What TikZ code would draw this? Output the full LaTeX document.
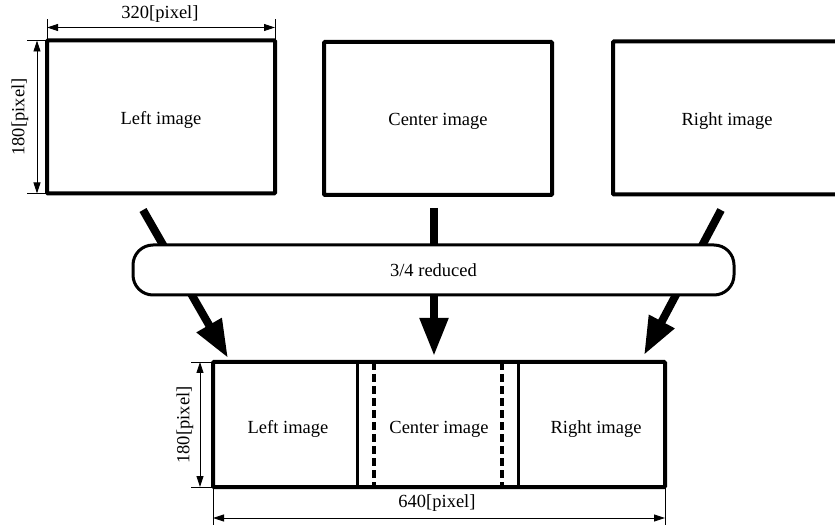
\documentclass[tikz,border=0pt]{standalone}
\usepackage{fontspec}
\setmainfont{Liberation Serif}
\usetikzlibrary{arrows.meta}
\newcommand\figfont{\fontsize{18.5}{22}\selectfont}
\begin{document}
\begin{tikzpicture}[x=1pt,y=-1pt,
  imgbox/.style={draw,line width=4pt,rounded corners=1pt,outer sep=0pt,
    inner sep=0pt,minimum width=228pt,minimum height=153pt},
  reducebox/.style={draw,fill=white,line width=3pt,rounded corners=20pt,
    outer sep=0pt,minimum width=601pt,minimum height=50pt,font=\figfont},
  stripbox/.style={draw,line width=4pt,rounded corners=1pt,outer sep=0pt,
    inner sep=0pt,minimum width=452pt,minimum height=125pt},
  lbl/.style={font=\figfont,inner sep=0pt},
  flow/.style={line width=8pt,-{Triangle[length=38pt,width=27pt]}},
  extline/.style={line width=0.9pt},
  dimline/.style={line width=0.9pt,{Triangle[length=11pt,width=7pt]}-{Triangle[length=11pt,width=7pt]}},
  divider/.style={line width=3pt},
  seam/.style={line width=4.5pt,dash pattern=on 8pt off 4pt}]
\useasboundingbox (0,0) rectangle (835,526);
\clip (0,0) rectangle (835,526);

% source images
\node[imgbox] (tl) at (161,117) {};
\node[imgbox] (tc) at (438,118.5) {};
\node[imgbox] (tr) at (727,118) {};
\node[lbl] (tlt) at ([yshift=-3pt]tl.center) {Left image};
\node[lbl] (tct) at ([yshift=-3pt]tc.center) {Center image};
\node[lbl] (trt) at ([yshift=-3pt]tr.center) {Right image};

% size of a source image
\draw[extline] (tl.north west) -- ++(0,-21);
\draw[extline] (tl.north east) -- ++(0,-21);
\draw[dimline] ([yshift=13pt]tl.north west) -- ([yshift=13pt]tl.north east);
\node[lbl] (tw) at (160,14) {320[pixel]};
\draw[extline] (tl.north west) -- ++(-20,0);
\draw[extline] (tl.south west) -- ++(-20,0);
\draw[dimline] ([xshift=-10pt]tl.north west) -- ([xshift=-10pt]tl.south west);
\node[lbl,rotate=90] (th) at (20,117) {180[pixel]};

% reduction arrows
\coordinate (ls) at (143,210);
\coordinate (lt) at (228,358);
\coordinate (cs) at (434,208);
\coordinate (ct) at (434,356);
\coordinate (rs) at (721,210);
\coordinate (rt) at (644,355);
\draw[flow] (ls) -- (lt);
\draw[flow] (cs) -- (ct);
\draw[flow] (rs) -- (rt);

\node[reducebox] (red) at (433.5,270) {3/4 reduced};

% combined strip
\node[stripbox] (bot) at (439,424.5) {};
\draw[divider] (357,0 |- bot.north) -- (357,0 |- bot.south);
\draw[divider] (518,0 |- bot.north) -- (518,0 |- bot.south);
\draw[seam] (374,0 |- bot.north) -- (374,0 |- bot.south);
\draw[seam] (502,0 |- bot.north) -- (502,0 |- bot.south);
\node[lbl] (bl) at (288,429) {Left image};
\node[lbl] (bc) at (439,429) {Center image};
\node[lbl] (br) at (596,429) {Right image};

% size of the strip
\draw[extline] (bot.north west) -- ++(-22,0);
\draw[extline] (bot.south west) -- ++(-22,0);
\draw[dimline] ([xshift=-13pt]bot.north west) -- ([xshift=-13pt]bot.south west);
\node[lbl,rotate=90] (bh) at (185,425) {180[pixel]};
\draw[extline] (bot.south west) -- ++(0,38);
\draw[extline] (bot.south east) -- ++(0,38);
\draw[dimline] ([yshift=-31pt]bot.south west) -- ([yshift=-31pt]bot.south east);
\node[lbl] (bw) at (437,503) {640[pixel]};
\end{tikzpicture}
\end{document}
